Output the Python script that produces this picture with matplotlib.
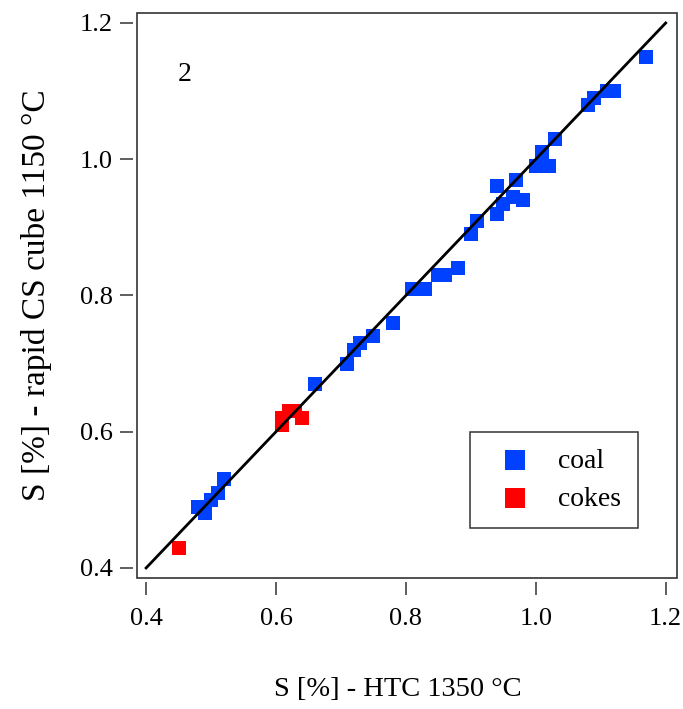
import matplotlib
matplotlib.use('Agg')
import matplotlib.pyplot as plt
from matplotlib.patches import Rectangle

# coal samples
coal_htc = [0.48, 0.49, 0.50, 0.51, 0.52,
            0.66, 0.71, 0.72, 0.73, 0.75, 0.78,
            0.81, 0.83, 0.85, 0.86, 0.88,
            0.90, 0.91, 0.94, 0.94, 0.95, 0.965, 0.98, 0.97,
            1.00, 1.01, 1.02, 1.03,
            1.08, 1.09, 1.11, 1.12, 1.17]
coal_cube = [0.49, 0.48, 0.50, 0.51, 0.53,
             0.67, 0.70, 0.72, 0.73, 0.74, 0.76,
             0.81, 0.81, 0.83, 0.83, 0.84,
             0.89, 0.91, 0.92, 0.96, 0.935, 0.945, 0.94, 0.97,
             0.99, 1.01, 0.99, 1.03,
             1.08, 1.09, 1.10, 1.10, 1.15]

# cokes samples
cokes_htc = [0.45, 0.61, 0.61, 0.62, 0.63, 0.64]
cokes_cube = [0.43, 0.61, 0.62, 0.63, 0.63, 0.62]

line_xy = [0.4, 1.2]
ticks = [0.4, 0.6, 0.8, 1.0, 1.2]
tick_labels = ['0.4', '0.6', '0.8', '1.0', '1.2']

plt.rcParams['font.family'] = ['Liberation Serif', 'DejaVu Serif']

fig = plt.figure(figsize=(6.83, 7.09), dpi=100)
ax = fig.add_axes([0.2006, 0.1848, 0.7906, 0.7969])

ax.plot(line_xy, line_xy, color='black', lw=2.0, zorder=3)
ax.scatter(coal_htc, coal_cube, marker='s', s=115, color='#0040ff', linewidths=0, label='coal', zorder=2)
ax.scatter(cokes_htc, cokes_cube, marker='s', s=115, color='#ff0000', linewidths=0, label='cokes', zorder=2)

ax.set_xlim(0.386, 1.2174)
ax.set_ylim(0.3853, 1.2147)
ax.set_xticks(ticks)
ax.set_xticklabels(tick_labels)
ax.set_yticks(ticks)
ax.set_yticklabels(tick_labels)

# detached tick axes, frame drawn separately
for side in ['left', 'bottom']:
    ax.spines[side].set_position(('outward', 3))
    ax.spines[side].set_visible(False)
for side in ['top', 'right']:
    ax.spines[side].set_visible(False)
ax.add_patch(Rectangle((0, 0), 1, 1, transform=ax.transAxes, fill=False,
                       edgecolor='#333333', lw=1.2, clip_on=False, zorder=5))

ax.tick_params(direction='out', length=9.5, width=1.1, color='#333333',
               labelsize=19, pad=5)
ax.tick_params(axis='x', pad=9)

ax.set_xlabel('S [%] - HTC 1350 °C', fontsize=20.5)
ax.xaxis.set_label_coords(0.483, -0.176)
ax.set_ylabel('S [%] - rapid CS cube 1150 °C', fontsize=24, labelpad=20)

ax.text(0.46, 1.124, '2', fontsize=20, ha='center', va='center')

leg = ax.legend(loc='lower right', bbox_to_anchor=(0.927, 0.088), fontsize=20,
                markerscale=1.3, handletextpad=0.55, borderpad=0.6,
                labelspacing=0.45, borderaxespad=0, fancybox=False,
                framealpha=1, edgecolor='#333333')
leg.get_frame().set_linewidth(1.1)

fig.savefig('out.png', dpi=100)
